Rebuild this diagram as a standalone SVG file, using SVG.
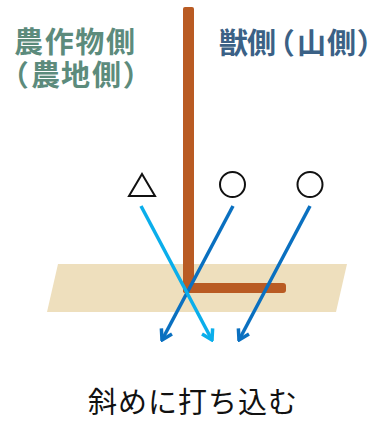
<svg xmlns="http://www.w3.org/2000/svg" width="376" height="425" viewBox="0 0 376 425">
  <style>
    .jp { font-family: "Noto Sans CJK JP", "Noto Sans", sans-serif; }
    .side { font-size: 29px; font-weight: bold; font-feature-settings: "palt"; }
    .farm { fill: #5C8B7C; }
    .mount { fill: #3B6186; }
    .caption { font-size: 29px; fill: #111111; }
    .mark { fill: none; stroke: #111111; stroke-width: 2; }
    .arrow { fill: none; stroke-width: 3.5; stroke-linecap: butt; }
    .light { stroke: #0AAEEB; }
    .dark { stroke: #0A70C0; }
  </style>
  <defs>
    <marker id="headLight" viewBox="-12 -8 14 16" markerWidth="14" markerHeight="16" refX="0" refY="0" orient="auto" markerUnits="userSpaceOnUse">
      <path d="M-10,-6 L0,0 L-10,6" fill="none" stroke="#0AAEEB" stroke-width="3.5" stroke-linejoin="miter"/>
    </marker>
    <marker id="headDark" viewBox="-12 -8 14 16" markerWidth="14" markerHeight="16" refX="0" refY="0" orient="auto" markerUnits="userSpaceOnUse">
      <path d="M-10,-6 L0,0 L-10,6" fill="none" stroke="#0A70C0" stroke-width="3.5" stroke-linejoin="miter"/>
    </marker>
  </defs>

  <!-- ground band -->
  <g id="ground">
    <polygon points="58,264 347,264 336,312 47,312" fill="#EEDFBD"/>
  </g>

  <!-- L-shaped post: upright plus buried foot -->
  <g id="post" fill="#B95B23">
    <rect x="183" y="7" width="11" height="286" rx="2"/>
    <rect x="183" y="283" width="103" height="10" rx="3"/>
  </g>

  <!-- side labels -->
  <g id="label-farm" class="jp side farm">
    <text><tspan x="14" y="53" textLength="121" lengthAdjust="spacing">農作物側</tspan><tspan y="86" x="13 31 61 92 124">（農地側）</tspan></text>
  </g>
  <g id="label-mountain" class="jp side mount">
    <text y="54" x="219 247 279 297 327 358">獣側（山側）</text>
  </g>

  <!-- rating marks -->
  <g id="mark-triangle">
    <polygon class="mark" points="142,174 155,196 129,196"/>
  </g>
  <g id="mark-circle-1">
    <circle class="mark" cx="232.5" cy="184.5" r="12.5"/>
  </g>
  <g id="mark-circle-2">
    <circle class="mark" cx="310" cy="184.5" r="12.5"/>
  </g>

  <!-- driving directions -->
  <g id="connectors">
    <line class="arrow dark" x1="233" y1="206" x2="162" y2="340" marker-end="url(#headDark)"/>
    <line class="arrow dark" x1="310" y1="206" x2="239" y2="340" marker-end="url(#headDark)"/>
    <line class="arrow light" x1="141" y1="206" x2="212" y2="340" marker-end="url(#headLight)"/>
  </g>

  <!-- caption -->
  <g id="caption">
    <text class="jp caption" x="88" y="413" textLength="209" lengthAdjust="spacing">斜めに打ち込む</text>
  </g>
</svg>
